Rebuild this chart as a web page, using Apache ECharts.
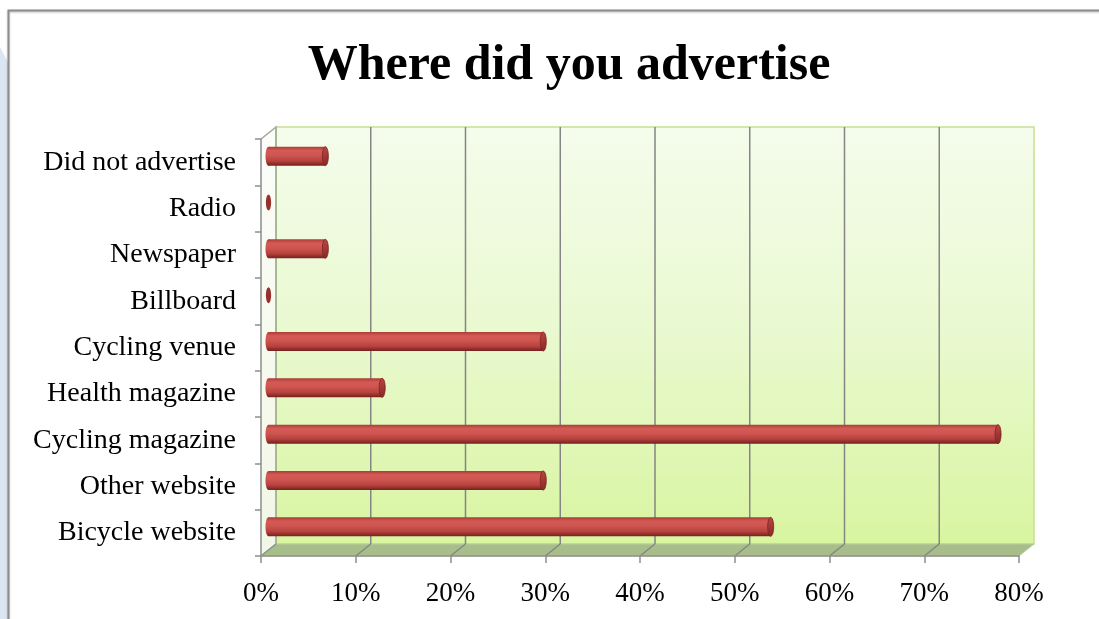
<!DOCTYPE html>
<html>
<head>
<meta charset="utf-8">
<script src="https://cdn.jsdelivr.net/npm/echarts@6/dist/echarts.min.js"></script>
<style>
  html, body { margin: 0; padding: 0; background: #ffffff; }
  #chart { width: 1099px; height: 619px; }
</style>
</head>
<body>
<div id="chart"></div>
<script>
// Survey answers, bottom row first (category axis grows upward)
const categories = [
  'Bicycle website', 'Other website', 'Cycling magazine', 'Health magazine',
  'Cycling venue', 'Billboard', 'Newspaper', 'Radio', 'Did not advertise'
];
const shares = [53, 29, 77, 12, 29, 0, 6, 0, 6];   // percent of respondents
const axisMin = 0;
const axisMax = 80;
const axisStep = 10;
const titleText = 'Where did you advertise';

// Pseudo-3D depth: how far the back wall sits from the front plane
const DX = 15, DY = -12;
const BAR_H = 19;
const SERIF = '"Liberation Serif", "DejaVu Serif", serif';

const LG = echarts.graphic.LinearGradient;

// Back wall, side wall, floor and the wall grid lines
function renderWalls(params, api) {
  const cs = params.coordSys;
  const x0 = cs.x, y0 = cs.y, x1 = cs.x + cs.width, y1 = cs.y + cs.height;
  const kids = [];
  kids.push({
    type: 'polygon',
    shape: { points: [[x0 + DX, y0 + DY], [x1 + DX, y0 + DY], [x1 + DX, y1 + DY], [x0 + DX, y1 + DY]] },
    style: {
      fill: new LG(0, 0, 0, 1, [
        { offset: 0, color: '#f5fcec' },
        { offset: 0.5, color: '#e9f9cf' },
        { offset: 1, color: '#d8f5a0' }
      ]),
      stroke: '#c6e193', lineWidth: 1.5
    }
  });
  kids.push({
    type: 'polygon',
    shape: { points: [[x0, y0], [x0 + DX, y0 + DY], [x0 + DX, y1 + DY], [x0, y1]] },
    style: {
      fill: new LG(0, 0, 0, 1, [
        { offset: 0, color: '#fbfdf8' },
        { offset: 1, color: '#f1f7e6' }
      ]),
      stroke: '#a3a3a3', lineWidth: 1.5
    }
  });
  kids.push({
    type: 'polygon',
    shape: { points: [[x0, y1], [x1, y1], [x1 + DX, y1 + DY], [x0 + DX, y1 + DY]] },
    style: { fill: '#a8be8a', stroke: '#b9cf9a', lineWidth: 1 }
  });
  // back wall left edge
  kids.push({
    type: 'line',
    shape: { x1: x0 + DX, y1: y0 + DY, x2: x0 + DX, y2: y1 + DY },
    style: { stroke: '#a6b98e', lineWidth: 1.5 }
  });
  for (let v = axisMin + axisStep; v < axisMax; v += axisStep) {
    const x = api.coord([v, 0])[0];
    kids.push({
      type: 'line',
      shape: { x1: x + DX, y1: y0 + DY, x2: x + DX, y2: y1 + DY },
      style: { stroke: '#858585', lineWidth: 1.5 }
    });
    kids.push({
      type: 'line',
      shape: { x1: x, y1: y1, x2: x + DX, y2: y1 + DY },
      style: { stroke: '#858585', lineWidth: 1.5 }
    });
  }
  // floor diagonal at the origin
  kids.push({
    type: 'line',
    shape: { x1: x0, y1: y1, x2: x0 + DX, y2: y1 + DY },
    style: { stroke: '#8f8f8f', lineWidth: 1.5 }
  });
  return { type: 'group', children: kids };
}

// Horizontal cylinder for one category, sitting mid-depth
function renderCylinder(params, api) {
  const v = api.value(0), idx = api.value(1);
  const s = api.coord([0, idx]);
  const e = api.coord([v, idx]);
  const cy = s[1] + DY / 2;
  const sx = s[0] + DX / 2;
  const ex = e[0] + DX / 2;
  const h = BAR_H, ry = h / 2, rx = 3;
  const body = new LG(0, 0, 0, 1, [
    { offset: 0, color: '#ad3b37' },
    { offset: 0.2, color: '#d35a55' },
    { offset: 0.45, color: '#cf5550' },
    { offset: 0.75, color: '#b6423e' },
    { offset: 1, color: '#74201d' }
  ]);
  const cap = new LG(0, 0, 1, 1, [
    { offset: 0, color: '#bd4843' },
    { offset: 1, color: '#842825' }
  ]);
  const kids = [];
  if (ex - sx > 1) {
    kids.push({ type: 'ellipse', shape: { cx: sx, cy: cy, rx: rx, ry: ry }, style: { fill: body } });
    kids.push({ type: 'rect', shape: { x: sx, y: cy - ry, width: ex - sx, height: h }, style: { fill: body } });
    kids.push({ type: 'ellipse', shape: { cx: ex, cy: cy, rx: rx, ry: ry }, style: { fill: cap, stroke: '#7a2320', lineWidth: 0.8 } });
  } else {
    kids.push({ type: 'ellipse', shape: { cx: sx, cy: cy, rx: 2.6, ry: ry - 1.5 }, style: { fill: '#96302c' } });
  }
  return { type: 'group', children: kids };
}

const chart = echarts.init(document.getElementById('chart'), null, { renderer: 'canvas' });

chart.setOption({
  animation: false,
  backgroundColor: '#ffffff',
  title: {
    text: titleText,
    left: 564,
    top: 36,
    textAlign: 'center',
    textStyle: { fontFamily: SERIF, fontWeight: 'bold', fontSize: 50, color: '#000000' }
  },
  graphic: [
    // blue page margin at the far left
    {
      type: 'polygon', z: -10,
      shape: { points: [[0, 47], [8, 62], [8, 619], [0, 619]] },
      style: { fill: '#dce6f2' }
    },
    // chart frame
    {
      type: 'rect', z: 100,
      shape: { x: 8.5, y: 10.5, width: 1200, height: 700 },
      style: { fill: 'none', stroke: '#8c8c8c', lineWidth: 2, shadowColor: 'rgba(0,0,0,0.25)', shadowBlur: 2, shadowOffsetY: 1 }
    }
  ],
  grid: { left: 261, right: 80, top: 139, bottom: 63, containLabel: false },
  xAxis: {
    type: 'value',
    min: axisMin, max: axisMax, interval: axisStep,
    z: 5,
    axisLine: { show: true, lineStyle: { color: '#8f8f8f', width: 1.5 } },
    axisTick: { show: true, length: 7, lineStyle: { color: '#8f8f8f', width: 1.5 } },
    splitLine: { show: false },
    axisLabel: {
      formatter: '{value}%', margin: 24,
      fontFamily: SERIF, fontSize: 27, color: '#000000'
    }
  },
  yAxis: {
    type: 'category',
    data: categories,
    z: 5,
    axisLine: { show: true, lineStyle: { color: '#a3a3a3', width: 1.5 } },
    axisTick: { show: true, length: 6, lineStyle: { color: '#8f8f8f', width: 1.5 } },
    splitLine: { show: false },
    axisLabel: {
      margin: 25, fontFamily: SERIF, fontSize: 28, color: '#000000',
      padding: [5, 0, 0, 0]
    }
  },
  series: [
    {
      type: 'custom', name: 'walls', z: 1, silent: true,
      renderItem: renderWalls,
      data: [[0, 0]]
    },
    {
      type: 'custom', name: 'share', z: 6,
      renderItem: renderCylinder,
      encode: { x: 0, y: 1 },
      data: shares.map((v, i) => [v, i])
    }
  ]
});
</script>
</body>
</html>
